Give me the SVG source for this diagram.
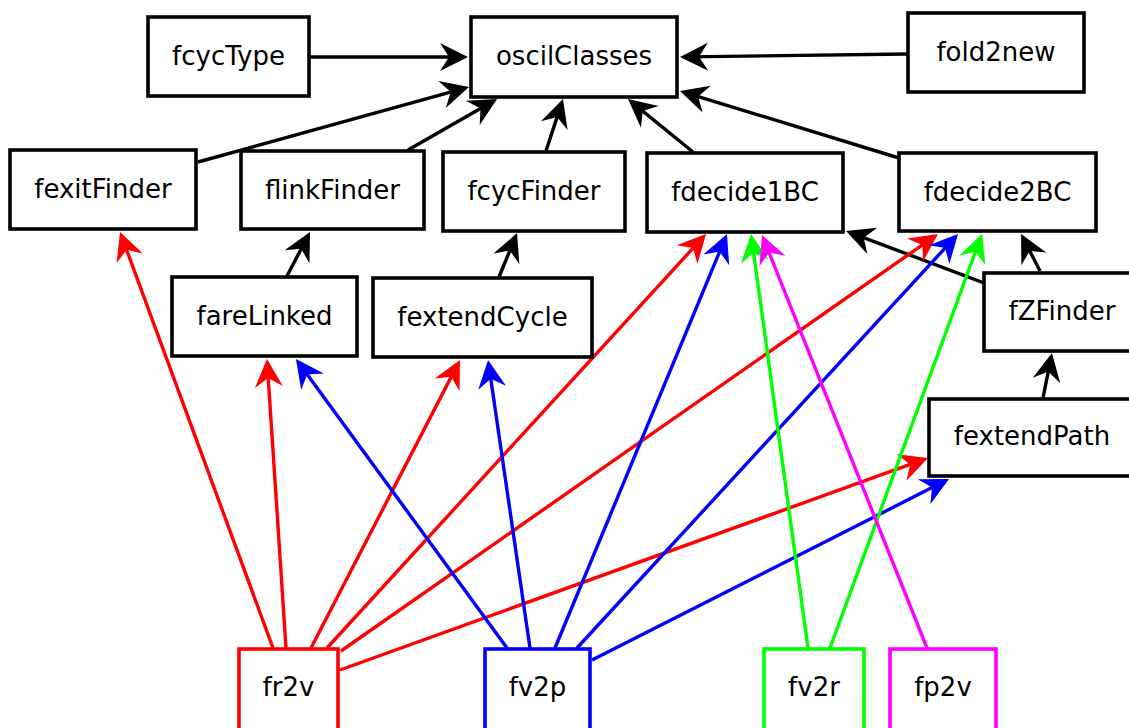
<svg xmlns="http://www.w3.org/2000/svg" width="1129" height="728" viewBox="0 0 1129 728">
  <style>
    .node rect { fill: #ffffff; stroke-width: 3.6; }
    .node text { font-family: "DejaVu Sans", "Liberation Sans", sans-serif; font-size: 26px; fill: #000000; text-anchor: middle; }
    .k rect { stroke: #000000; }
    .r rect { stroke: #ff0000; }
    .b rect { stroke: #0000ff; }
    .g rect { stroke: #00ff00; }
    .m rect { stroke: #ff00ff; }
    #edges line { stroke-width: 3.4; fill: none; }
    .ek { stroke: #000000; marker-end: url(#ak); }
    .er { stroke: #ff0000; marker-end: url(#ar); }
    .eb { stroke: #0000ff; marker-end: url(#ab); }
    .eg { stroke: #00ff00; marker-end: url(#ag); }
    .em { stroke: #ff00ff; marker-end: url(#am); }
  </style>
  <defs>
    <marker id="ak" viewBox="-22 -16 32 32" refX="0" refY="0" markerWidth="32" markerHeight="32" markerUnits="userSpaceOnUse" orient="auto">
      <path d="M8,0 L-20,-14 L-11,0 L-20,14 Z" fill="#000000"/>
    </marker>
    <marker id="ar" viewBox="-22 -16 32 32" refX="0" refY="0" markerWidth="32" markerHeight="32" markerUnits="userSpaceOnUse" orient="auto">
      <path d="M8,0 L-20,-14 L-11,0 L-20,14 Z" fill="#ff0000"/>
    </marker>
    <marker id="ab" viewBox="-22 -16 32 32" refX="0" refY="0" markerWidth="32" markerHeight="32" markerUnits="userSpaceOnUse" orient="auto">
      <path d="M8,0 L-20,-14 L-11,0 L-20,14 Z" fill="#0000ff"/>
    </marker>
    <marker id="ag" viewBox="-22 -16 32 32" refX="0" refY="0" markerWidth="32" markerHeight="32" markerUnits="userSpaceOnUse" orient="auto">
      <path d="M8,0 L-20,-14 L-11,0 L-20,14 Z" fill="#00ff00"/>
    </marker>
    <marker id="am" viewBox="-22 -16 32 32" refX="0" refY="0" markerWidth="32" markerHeight="32" markerUnits="userSpaceOnUse" orient="auto">
      <path d="M8,0 L-20,-14 L-11,0 L-20,14 Z" fill="#ff00ff"/>
    </marker>
  </defs>
  <rect x="0" y="0" width="1129" height="728" fill="#ffffff"/>

  <g id="edges">
    <!-- black dependencies -->
    <line class="ek" x1="310" y1="57" x2="460" y2="57"/>
    <line class="ek" x1="907" y1="54" x2="688" y2="56.9"/>
    <line class="ek" x1="198" y1="162" x2="461.3" y2="89.1"/>
    <line class="ek" x1="408" y1="150" x2="490.1" y2="103"/>
    <line class="ek" x1="546" y1="151" x2="560.5" y2="106.6"/>
    <line class="ek" x1="693" y1="152" x2="634.2" y2="104.1"/>
    <line class="ek" x1="899" y1="158" x2="687.6" y2="93.3"/>
    <line class="ek" x1="287" y1="276" x2="306.3" y2="239.1"/>
    <line class="ek" x1="499" y1="277" x2="514" y2="240.4"/>
    <line class="ek" x1="984" y1="283" x2="853.5" y2="233.8"/>
    <line class="ek" x1="1040" y1="271" x2="1024.7" y2="241.1"/>
    <line class="ek" x1="1043" y1="398" x2="1050.4" y2="360.8"/>
    <!-- fr2v -->
    <line class="er" x1="273" y1="648" x2="122.8" y2="239.5"/>
    <line class="er" x1="286" y1="648" x2="267.5" y2="367"/>
    <line class="er" x1="311" y1="648" x2="456.3" y2="367.1"/>
    <line class="er" x1="327" y1="648" x2="700.6" y2="239.9"/>
    <line class="er" x1="341" y1="651" x2="931.4" y2="238.6"/>
    <line class="er" x1="340" y1="670" x2="920.5" y2="460.7"/>
    <!-- fv2p -->
    <line class="eb" x1="507" y1="648" x2="300.7" y2="365.5"/>
    <line class="eb" x1="530" y1="648" x2="489.2" y2="367.9"/>
    <line class="eb" x1="555" y1="648" x2="723.9" y2="241.4"/>
    <line class="eb" x1="577" y1="648" x2="952.6" y2="239.9"/>
    <line class="eb" x1="592" y1="660" x2="941.9" y2="482.6"/>
    <!-- fv2r -->
    <line class="eg" x1="808" y1="648" x2="752.1" y2="241.9"/>
    <line class="eg" x1="830" y1="648" x2="979.2" y2="241.5"/>
    <!-- fp2v -->
    <line class="em" x1="927" y1="648" x2="765" y2="242.4"/>
  </g>

  <g id="oscilClasses" class="node k"><rect x="471" y="17" width="206" height="80"/><text x="574" y="65">oscilClasses</text></g>
  <g id="fcycType" class="node k"><rect x="148" y="17" width="161" height="79"/><text x="228.5" y="65">fcycType</text></g>
  <g id="fold2new" class="node k"><rect x="908" y="13" width="176" height="79"/><text x="996" y="61">fold2new</text></g>
  <g id="fexitFinder" class="node k"><rect x="10" y="150" width="186" height="79"/><text x="103" y="198">fexitFinder</text></g>
  <g id="flinkFinder" class="node k"><rect x="241" y="151" width="183" height="78"/><text x="332.5" y="198.5">flinkFinder</text></g>
  <g id="fcycFinder" class="node k"><rect x="443" y="152" width="182" height="79"/><text x="534" y="200">fcycFinder</text></g>
  <g id="fdecide1BC" class="node k"><rect x="647" y="153" width="196" height="79"/><text x="745" y="201">fdecide1BC</text></g>
  <g id="fdecide2BC" class="node k"><rect x="899" y="153" width="197" height="78"/><text x="997.5" y="200.5">fdecide2BC</text></g>
  <g id="fareLinked" class="node k"><rect x="172" y="277" width="185" height="79"/><text x="264.5" y="325">fareLinked</text></g>
  <g id="fextendCycle" class="node k"><rect x="373" y="278" width="219" height="79"/><text x="482.5" y="326">fextendCycle</text></g>
  <g id="fZFinder" class="node k"><rect x="984" y="273" width="160" height="78"/><text x="1062" y="320">fZFinder</text></g>
  <g id="fextendPath" class="node k"><rect x="929" y="399" width="210" height="77"/><text x="1032" y="445">fextendPath</text></g>
  <g id="fr2v" class="node r"><rect x="239" y="649" width="99" height="82"/><text x="288.5" y="696">fr2v</text></g>
  <g id="fv2p" class="node b"><rect x="485" y="649" width="105" height="82"/><text x="537.5" y="696">fv2p</text></g>
  <g id="fv2r" class="node g"><rect x="764" y="649" width="100" height="82"/><text x="814" y="696">fv2r</text></g>
  <g id="fp2v" class="node m"><rect x="890" y="649" width="106" height="82"/><text x="943" y="696">fp2v</text></g>
</svg>
